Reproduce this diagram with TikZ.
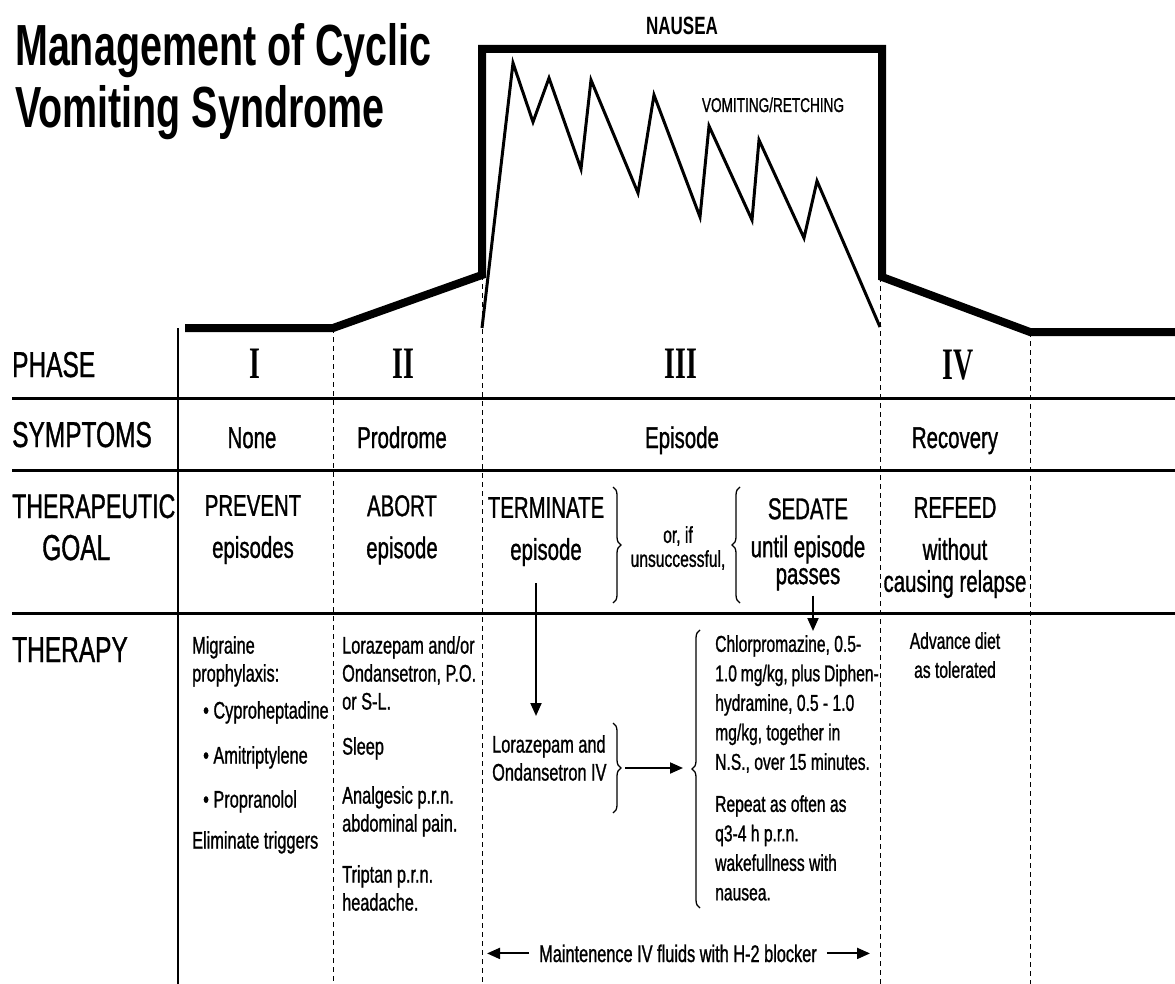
\documentclass[tikz,border=0pt]{standalone}
\usepackage{fontspec}
\setmainfont[FakeStretch=0.68,UprightFeatures={FakeBold=1}]{Liberation Sans}
\newfontfamily\numfont[FakeStretch=0.62]{Liberation Serif}
\usetikzlibrary{positioning,arrows.meta,decorations.pathreplacing}

\begin{document}
\begin{tikzpicture}[%
x=1pt,y=-1pt,
>={Triangle[length=13pt,width=11pt]},
every node/.style={inner sep=0pt},
title/.style={anchor=north west,align=left,font=\bfseries\fontsize{58}{62}\selectfont},
rowlabel/.style={anchor=base west,font=\fontsize{36}{38}\selectfont},
phasenum/.style={anchor=base,font=\numfont\bfseries\fontsize{45}{45}\selectfont},
symptom/.style={anchor=base,font=\fontsize{30}{32}\selectfont},
goal/.style={anchor=north,align=center,font=\fontsize{30}{42}\selectfont},
therapy/.style={anchor=north west,align=left,font=\fontsize{24}{28}\selectfont},
rule/.style={line width=3pt},
divider/.style={dash pattern=on 5pt off 4pt,line width=0.9pt},
course/.style={line width=8pt,line join=miter},
retch/.style={line width=3pt,line join=miter},
pil/.style={->,line width=2pt},
bracket/.style={decorate,decoration={brace,amplitude=8pt},line width=1.3pt}
]
\useasboundingbox (0,0) rectangle (1175,984);

\node[title] (title) at (15,23) {Management of Cyclic\\Vomiting Syndrome};

\draw[course] (185,328) -- (333,328) -- (482,275) -- (482,49) -- (882,49)
  -- (882,277) -- (1030,332) -- (1175,332);
\draw[retch] (482,328) -- (513,63) -- (533,122) -- (549,78) -- (581,169)
  -- (591,80) -- (638,193) -- (654,95) -- (700,217) -- (709,126) -- (752,220)
  -- (759,140) -- (804,238) -- (817,181) -- (880,327);
\node[anchor=base,font=\bfseries\fontsize{25}{27}\selectfont] (nausea) at (682,35) {NAUSEA};
\node[anchor=base,font=\fontsize{20}{22}\selectfont] (retching) at (773,112) {VOMITING/RETCHING};

\draw[rule] (12,398) -- (1175,398);
\draw[rule] (12,470) -- (1175,470);
\draw[rule] (12,613) -- (1175,613);
\draw[line width=1.5pt] (178,328) -- (178,984);
\draw[divider] (333,328) -- (333,984);
\draw[divider] (482,275) -- (482,984);
\draw[divider] (880,277) -- (880,984);
\draw[divider] (1030,332) -- (1030,984);

\node[rowlabel] (phase) at (12,377) {PHASE};
\node[rowlabel] (symptoms) at (12,447) {SYMPTOMS};
\node[rowlabel,font=\fontsize{34}{38}\selectfont] (goal) at (12,518) {THERAPEUTIC};
\node[rowlabel] (goalb) at (42,560) {GOAL};
\node[rowlabel] (therapy) at (12,662) {THERAPY};

\node[phasenum] (one) at (255,378) {I};
\node[phasenum] (two) at (403,378) {II};
\node[phasenum] (three) at (681,378) {III};
\node[phasenum] (four) at (958,379) {IV};

\node[symptom] (none) at (252,448) {None};
\node[symptom] (prodrome) at (402,448) {Prodrome};
\node[symptom] (episode) at (682,448) {Episode};
\node[symptom] (recovery) at (955,448) {Recovery};

\node[goal] (prevent) at (253,495) {PREVENT\\episodes};
\node[goal] (abort) at (402,495) {ABORT\\episode};
\node[goal] (terminate) at (546,497) {TERMINATE\\episode};
\node[align=center,font=\fontsize{23}{24}\selectfont] (ornot) at (678,548) {or, if\\unsuccessful,};
\node[goal] (sedate) at (808,498) {SEDATE\\[-4pt]until episode\\[-15pt]passes};
\node[goal] (refeed) at (955,497) {REFEED\\without\\[-10pt]causing relapse};
\draw[bracket] (613,487) -- (613,603);
\draw[bracket] (740,603) -- (740,487);

\node[therapy] (migraine) at (192,636) {Migraine\\prophylaxis:\\[9pt]
  \hspace{11pt}\textbullet\ Cyproheptadine\\[17pt]
  \hspace{11pt}\textbullet\ Amitriptylene\\[16pt]
  \hspace{11pt}\textbullet\ Propranolol\\[13pt]
  Eliminate triggers};
\node[therapy] (abortive) at (342,636) {Lorazepam and/or\\Ondansetron, P.O.\\or S-L.\\[17pt]
  Sleep\\[21pt]Analgesic p.r.n.\\abdominal pain.\\[23pt]Triptan p.r.n.\\headache.};
\node[therapy] (ivdrugs) at (492,735) {Lorazepam and\\Ondansetron IV};
\node[therapy,font=\fontsize{23}{29.5}\selectfont] (chlor) at (715,635)
  {Chlorpromazine, 0.5-\\1.0\,mg/kg,\,plus\,Diphen-\\hydramine, 0.5 - 1.0\\mg/kg, together in\\N.S., over 15 minutes.\\[12.5pt]
  Repeat as often as\\q3-4 h p.r.n.\\wakefullness with\\nausea.};
\node[anchor=north,align=center,font=\fontsize{23}{29}\selectfont] (advance) at (955,632) {Advance diet\\as tolerated};
\node[anchor=base,font=\fontsize{24}{26}\selectfont] (maint) at (678,962) {Maintenence IV fluids with H-2 blocker};

\draw[bracket] (613,723) -- (613,813);
\draw[bracket] (700,908) -- (700,630);
\coordinate (ivtip) at (622,768);
\coordinate (chlortip) at (691,768);
\coordinate (leftend) at (487,962);
\coordinate (rightend) at (870,962);

\draw[pil,shorten <=17pt,shorten >=19pt] ([xshift=-10pt]terminate.south) -- ([xshift=-10pt]terminate.south |- ivdrugs.north);
\draw[pil,shorten <=5pt,shorten >=4pt] ([xshift=5pt]sedate.south) -- ([xshift=5pt]sedate.south |- chlor.north);
\draw[pil,shorten <=3pt,shorten >=8pt] (ivtip) -- (chlortip);
\draw[pil,shorten <=10pt] (maint.west) -- (maint.west -| leftend);
\draw[pil,shorten <=10pt] (maint.east) -- (maint.east -| rightend);
\end{tikzpicture}
\end{document}
